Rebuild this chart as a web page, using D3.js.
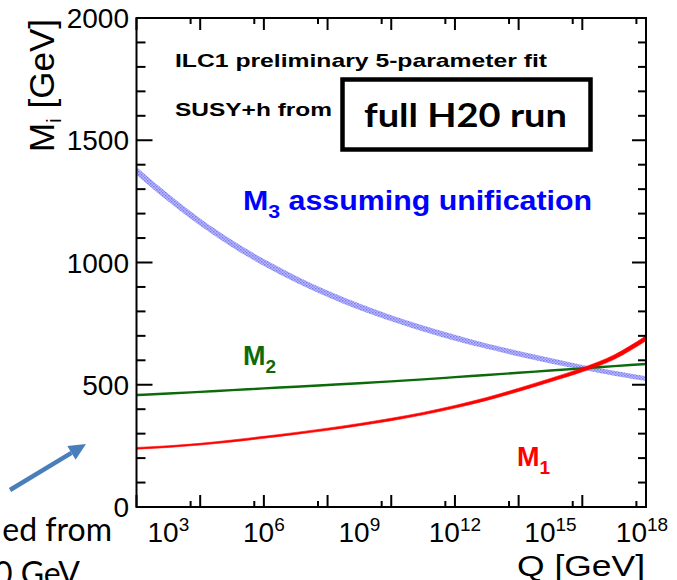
<!DOCTYPE html>
<html>
<head>
<meta charset="utf-8">
<script src="https://cdn.jsdelivr.net/npm/d3@7"></script>
<style>
  html, body { margin: 0; padding: 0; background: #fff; }
  svg { display: block; }
</style>
</head>
<body>
<script>
// Renormalisation scale Q [GeV], one point per decade
const scaleQ = [1e2, 1e3, 1e4, 1e5, 1e6, 1e7, 1e8, 1e9, 1e10, 1e11, 1e12, 1e13, 1e14, 1e15, 1e16, 1e17, 1e18];

// Gaugino mass parameters running with Q [GeV]
const m1Values = [240, 247, 257, 270, 285, 301, 318, 337, 358, 382, 410, 442, 479, 519, 561, 613, 690];
const m1Errors = [3.5, 3.5, 3.5, 4, 4, 4, 4.5, 4.5, 5, 5, 5.5, 6, 6.5, 7, 8, 9, 10];
const m2Values = [458, 464, 471, 478, 485, 492, 499, 506, 514, 522, 531, 540, 549, 558, 567, 576, 585];
const m3Values = [1375, 1265, 1165, 1077, 1000, 932, 872, 819, 772, 730, 692, 658, 627, 598, 571, 547, 525];
const m3Errors = [16, 16, 15, 15, 14, 14, 13, 13, 12, 12, 12, 11, 11, 11, 10, 10, 10];

// Axis ticks
const yMajorTicks = [0, 500, 1000, 1500, 2000];
const xLabelExponents = [3, 6, 9, 12, 15, 18];

const W = 677, H = 580;
const frame = { left: 136.5, right: 646, top: 18, bottom: 507 };
const rootFont = "'Liberation Sans', Arial, Helvetica, sans-serif";
const slideFont = "Lato, 'Open Sans', sans-serif";

const svg = d3.select("body").append("svg")
  .attr("width", W).attr("height", H)
  .attr("viewBox", `0 0 ${W} ${H}`);

const x = d3.scaleLog().domain([1e2, 1e18]).range([frame.left, frame.right]);
const y = d3.scaleLinear().domain([0, 2000]).range([frame.bottom, frame.top]);

// Hatched fill for the M3 band
const defs = svg.append("defs");
const pat = defs.append("pattern")
  .attr("id", "m3hatch").attr("patternUnits", "userSpaceOnUse")
  .attr("width", 3).attr("height", 3);
pat.append("rect").attr("width", 3).attr("height", 3).attr("fill", "#bcbcfb");
pat.append("rect").attr("x", 0).attr("y", 0).attr("width", 1.5).attr("height", 1.5).attr("fill", "#7a7af2");
pat.append("rect").attr("x", 1.5).attr("y", 1.5).attr("width", 1.5).attr("height", 1.5).attr("fill", "#8c8cf5");

defs.append("clipPath").attr("id", "plotclip")
  .append("rect")
  .attr("x", frame.left).attr("y", frame.top)
  .attr("width", frame.right - frame.left).attr("height", frame.bottom - frame.top);

const rows = scaleQ.map((q, i) => ({
  q,
  m1: m1Values[i], e1: m1Errors[i],
  m2: m2Values[i],
  m3: m3Values[i], e3: m3Errors[i]
}));

const curve = d3.curveMonotoneX;
const plot = svg.append("g").attr("clip-path", "url(#plotclip)");

// M3 band (assuming unification)
plot.append("path")
  .datum(rows)
  .attr("fill", "url(#m3hatch)")
  .attr("d", d3.area().curve(curve)
    .x(d => x(d.q))
    .y0(d => y(d.m3 - d.e3))
    .y1(d => y(d.m3 + d.e3)));

// M2
plot.append("path")
  .datum(rows)
  .attr("fill", "none")
  .attr("stroke", "#0b6b0b")
  .attr("stroke-width", 2.4)
  .attr("d", d3.line().curve(curve).x(d => x(d.q)).y(d => y(d.m2)));

// M1 band
plot.append("path")
  .datum(rows)
  .attr("fill", "#ff0000")
  .attr("stroke", "#ff0000")
  .attr("stroke-width", 0.6)
  .attr("d", d3.area().curve(curve)
    .x(d => x(d.q))
    .y0(d => y(d.m1 - d.e1))
    .y1(d => y(d.m1 + d.e1)));

// Frame
svg.append("rect")
  .attr("x", frame.left).attr("y", frame.top)
  .attr("width", frame.right - frame.left).attr("height", frame.bottom - frame.top)
  .attr("fill", "none").attr("stroke", "#000").attr("stroke-width", 2);

// Y ticks (left and right)
const yMinor = d3.range(0, 2001, 100).filter(v => v % 500 !== 0);
const axes = svg.append("g").attr("stroke", "#000").attr("stroke-width", 2);
yMajorTicks.forEach(v => {
  axes.append("line").attr("x1", frame.left).attr("x2", frame.left + 16).attr("y1", y(v)).attr("y2", y(v));
  axes.append("line").attr("x1", frame.right).attr("x2", frame.right - 14).attr("y1", y(v)).attr("y2", y(v));
});
yMinor.forEach(v => {
  axes.append("line").attr("x1", frame.left).attr("x2", frame.left + 9).attr("y1", y(v)).attr("y2", y(v));
  axes.append("line").attr("x1", frame.right).attr("x2", frame.right - 8).attr("y1", y(v)).attr("y2", y(v));
});

// X ticks (bottom and top): decades long, 5x10^k short
const xMajor = x.ticks().filter(v => Math.abs(Math.log10(v) - Math.round(Math.log10(v))) < 1e-9);
xMajor.forEach(v => {
  axes.append("line").attr("x1", x(v)).attr("x2", x(v)).attr("y1", frame.bottom).attr("y2", frame.bottom - 12);
  axes.append("line").attr("x1", x(v)).attr("x2", x(v)).attr("y1", frame.top).attr("y2", frame.top + 12);
});
xMajor.slice(1).forEach(v => {
  const m = v / 2;
  axes.append("line").attr("x1", x(m)).attr("x2", x(m)).attr("y1", frame.bottom).attr("y2", frame.bottom - 6);
  axes.append("line").attr("x1", x(m)).attr("x2", x(m)).attr("y1", frame.top).attr("y2", frame.top + 6);
});

// Y tick labels
svg.append("g")
  .selectAll("text").data(yMajorTicks).join("text")
  .attr("x", 129).attr("y", d => y(d) + 10)
  .attr("text-anchor", "end")
  .attr("font-family", rootFont).attr("font-size", 28)
  .text(d => d);

// X tick labels 10^n
const xl = svg.append("g").selectAll("text").data(xLabelExponents).join("text")
  .attr("x", d => x(Math.pow(10, d)) + (d === 18 ? -4 : 0))
  .attr("y", 542)
  .attr("text-anchor", "middle")
  .attr("font-family", rootFont).attr("font-size", 28);
xl.append("tspan").text("10");
xl.append("tspan").attr("dy", -11).attr("font-size", 19).text(d => d);

// Axis titles
const yt = svg.append("text")
  .attr("transform", "translate(54,19) rotate(-90)")
  .attr("text-anchor", "end")
  .attr("font-family", rootFont).attr("font-size", 35);
yt.append("tspan").text("M");
yt.append("tspan").attr("dy", 7).attr("font-size", 21).text("i");
yt.append("tspan").attr("dy", -7).text(" [GeV]");

svg.append("text")
  .attr("x", 645).attr("y", 576)
  .attr("text-anchor", "end")
  .attr("font-family", rootFont).attr("font-size", 30)
  .attr("textLength", 128).attr("lengthAdjust", "spacingAndGlyphs")
  .text("Q [GeV]");

// Header texts
svg.append("text")
  .attr("x", 175).attr("y", 67)
  .attr("font-family", rootFont).attr("font-weight", "bold").attr("font-size", 19)
  .attr("textLength", 372).attr("lengthAdjust", "spacingAndGlyphs")
  .text("ILC1 preliminary 5-parameter fit");
svg.append("text")
  .attr("x", 175).attr("y", 116)
  .attr("font-family", rootFont).attr("font-weight", "bold").attr("font-size", 19)
  .attr("textLength", 157).attr("lengthAdjust", "spacingAndGlyphs")
  .text("SUSY+h from");

svg.append("rect")
  .attr("x", 342.5).attr("y", 79.5).attr("width", 248).attr("height", 70)
  .attr("fill", "#fff").attr("stroke", "#000").attr("stroke-width", 4.5);
svg.append("text")
  .attr("x", 364).attr("y", 127)
  .attr("font-family", slideFont).attr("font-weight", "bold").attr("font-size", 32)
  .attr("textLength", 203).attr("lengthAdjust", "spacingAndGlyphs")
  .text("full H20 run");

// Curve labels
function massLabel(xPos, yPos, idx, rest, color) {
  const t = svg.append("text")
    .attr("x", xPos).attr("y", yPos)
    .attr("font-family", rootFont).attr("font-weight", "bold").attr("font-size", 27)
    .attr("fill", color);
  t.append("tspan").text("M");
  t.append("tspan").attr("dy", 8).attr("font-size", 19).text(idx);
  if (rest) t.append("tspan").attr("dy", -8).text(rest);
  return t;
}
massLabel(243, 210, "3", " assuming unification", "#0000ff")
  .attr("textLength", 349).attr("lengthAdjust", "spacingAndGlyphs");
massLabel(243, 365, "2", null, "#0b6b0b");
massLabel(517, 466, "1", null, "#ff0000");

// Annotation arrow
const arrowColor = "#4a7ebb";
const a0 = [10, 490], a1 = [86, 444];
const ang = Math.atan2(a1[1] - a0[1], a1[0] - a0[0]);
const headLen = 17, headW = 8;
const base = [a1[0] - headLen * Math.cos(ang), a1[1] - headLen * Math.sin(ang)];
svg.append("line")
  .attr("x1", a0[0]).attr("y1", a0[1]).attr("x2", base[0]).attr("y2", base[1])
  .attr("stroke", arrowColor).attr("stroke-width", 4.5);
svg.append("path")
  .attr("fill", arrowColor)
  .attr("d", d3.line()([
    a1,
    [base[0] + headW * Math.sin(ang), base[1] - headW * Math.cos(ang)],
    [base[0] - headW * Math.sin(ang), base[1] + headW * Math.cos(ang)]
  ]) + "Z");

// Side note text
svg.append("text")
  .attr("x", 112).attr("y", 541)
  .attr("text-anchor", "end")
  .attr("font-family", slideFont).attr("font-size", 32)
  .text("ed from");
svg.append("text")
  .attr("x", 80).attr("y", 585)
  .attr("text-anchor", "end")
  .attr("font-family", slideFont).attr("font-size", 32)
  .text("0 GeV");
</script>
</body>
</html>
